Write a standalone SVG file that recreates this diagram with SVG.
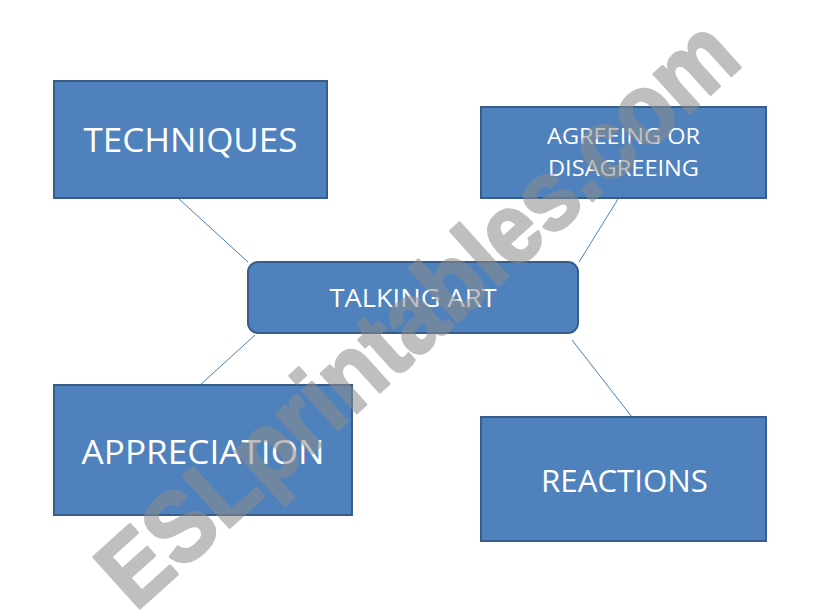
<svg xmlns="http://www.w3.org/2000/svg" width="821" height="616" viewBox="0 0 821 616">
<style>
.box{fill:#4F81BD;stroke:#385D8A;stroke-width:2}
.lbl{fill:#ffffff;font-family:"Open Sans","Liberation Sans",sans-serif;text-anchor:middle}
.con{stroke:#4A7EBB;stroke-width:1;fill:none}
.wm{fill:#8c8c8c;stroke:#8c8c8c;stroke-width:3;stroke-linejoin:round;opacity:0.55;font-family:"Liberation Sans",Arial,sans-serif;font-weight:bold;text-anchor:middle}
</style>
<rect width="821" height="616" fill="#ffffff"/>
<g id="connectors">
<line class="con" x1="179" y1="199" x2="248" y2="262"/>
<line class="con" x1="618" y1="199" x2="579" y2="262"/>
<line class="con" x1="200" y1="385" x2="255" y2="335"/>
<line class="con" x1="572" y1="340" x2="632" y2="417"/>
</g>
<g id="techniques">
<rect class="box" x="54" y="81" width="273" height="117"/>
<text class="lbl" x="190.5" y="152" font-size="33" textLength="214" lengthAdjust="spacingAndGlyphs">TECHNIQUES</text>
</g>
<g id="agreeing">
<rect class="box" x="481" y="107" width="285" height="91"/>
<text class="lbl" x="623.5" y="144" font-size="21" textLength="153" lengthAdjust="spacingAndGlyphs">AGREEING OR</text>
<text class="lbl" x="623.5" y="176" font-size="21" textLength="151" lengthAdjust="spacingAndGlyphs">DISAGREEING</text>
</g>
<g id="talking-art">
<rect class="box" x="248" y="262" width="330" height="71" rx="10" ry="10"/>
<text class="lbl" x="413" y="307" font-size="25" textLength="167" lengthAdjust="spacingAndGlyphs">TALKING ART</text>
</g>
<g id="appreciation">
<rect class="box" x="54" y="385" width="298" height="130"/>
<text class="lbl" x="203" y="464" font-size="33" textLength="243" lengthAdjust="spacingAndGlyphs">APPRECIATION</text>
</g>
<g id="reactions">
<rect class="box" x="481" y="417" width="285" height="124"/>
<text class="lbl" x="624.5" y="492" font-size="31" textLength="167" lengthAdjust="spacingAndGlyphs">REACTIONS</text>
</g>
<text class="wm" x="0" y="0" font-size="100" transform="translate(440,338) rotate(-42)" textLength="820" lengthAdjust="spacingAndGlyphs">ESLprintables.com</text>
</svg>
